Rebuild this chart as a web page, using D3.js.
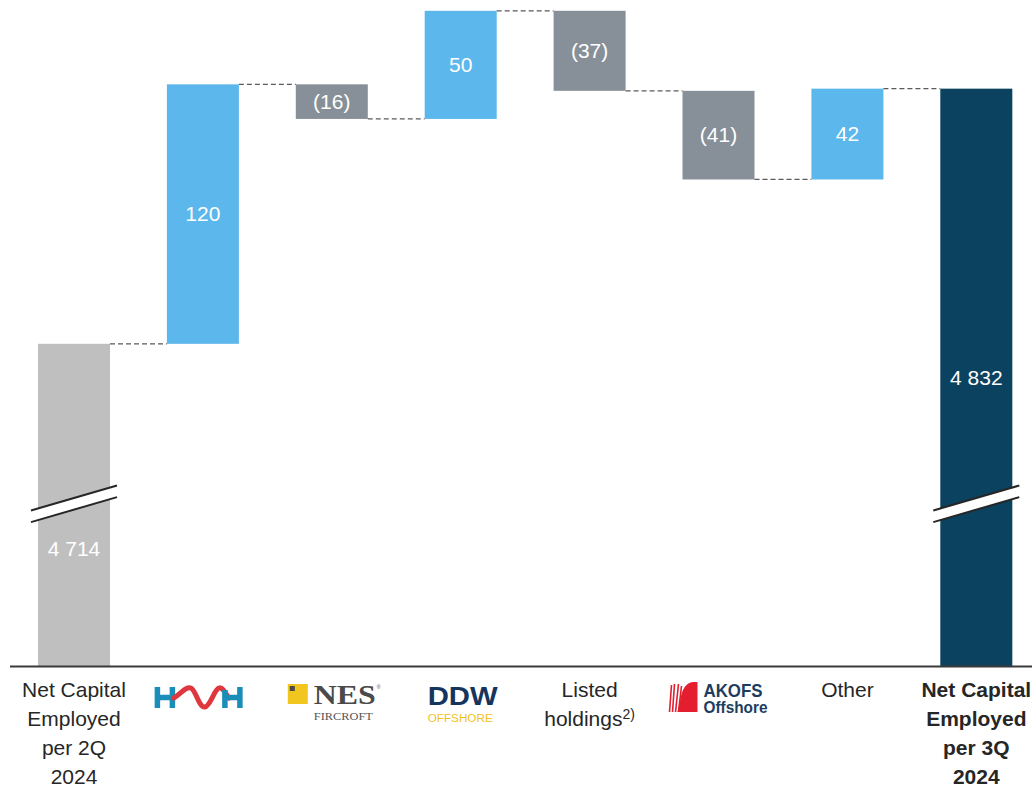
<!DOCTYPE html>
<html>
<head>
<meta charset="utf-8">
<script src="https://cdn.jsdelivr.net/npm/d3@7"></script>
<style>
    html, body { margin: 0; padding: 0; background: #ffffff; }
    svg { display: block; }
    text { font-family: "Liberation Sans", Arial, sans-serif; }
</style>
</head>
<body>
<svg id="chart" width="1032" height="788"></svg>
<script>
// Data
const categories = ['start', 'HMH', 'NES', 'DDW', 'Listed', 'AKOFS', 'Other', 'end'];
const startValue = 4714;
const deltas = [120, -16, 50, -37, -41, 42];
const endValue = 4832;
const valueLabels = ['4 714', '120', '(16)', '50', '(37)', '(41)', '42', '4 832'];
const categoryLines = [
    ['Net Capital', 'Employed', 'per 2Q', '2024'],
    null,
    null,
    null,
    ['Listed', 'holdings'],
    null,
    ['Other'],
    ['Net Capital', 'Employed', 'per 3Q', '2024']
];
const axisMin = 4565;
const axisMax = 4873;
const breakValue = 4640;

// Colours
const colors = {
    start: '#bfbfbf',
    up: '#5bb7ec',
    down: '#879098',
    end: '#0b4260',
    connector: '#5a5a5a',
    text: '#262626'
};

// Build waterfall rows
let running = startValue;
const rows = [{ key: categories[0], from: axisMin, to: startValue, type: 'start' }];
deltas.forEach((d, i) => {
    rows.push({ key: categories[i + 1], from: running, to: running + d, type: d >= 0 ? 'up' : 'down' });
    running += d;
});
rows.push({ key: categories[7], from: axisMin, to: endValue, type: 'end' });
rows.forEach((r, i) => { r.label = valueLabels[i]; });

const svg = d3.select('#chart');

const x = d3.scaleBand()
    .domain(categories)
    .range([9.5, 1040.8])
    .paddingInner(0.4414)
    .paddingOuter(0.221);

const y = d3.scaleLinear()
    .domain([axisMin, axisMax])
    .range([666, 0]);

// Bars
svg.append('g')
    .selectAll('rect')
    .data(rows)
    .enter()
    .append('rect')
    .attr('x', d => x(d.key))
    .attr('width', x.bandwidth())
    .attr('y', d => y(Math.max(d.from, d.to)))
    .attr('height', d => Math.abs(y(d.from) - y(d.to)))
    .attr('fill', d => colors[d.type]);

// Connectors
const links = rows.slice(0, -1).map((r, i) => ({ a: r.key, b: rows[i + 1].key, v: r.to }));
svg.append('g')
    .selectAll('line')
    .data(links)
    .enter()
    .append('line')
    .attr('x1', d => x(d.a) + x.bandwidth())
    .attr('x2', d => x(d.b))
    .attr('y1', d => y(d.v))
    .attr('y2', d => y(d.v))
    .attr('stroke', colors.connector)
    .attr('stroke-width', 1.3)
    .attr('stroke-dasharray', '5,3');

// Axis line
svg.append('g')
    .attr('transform', `translate(0,${y(axisMin)})`)
    .call(d3.axisBottom(x).tickSize(0).tickFormat(''))
    .call(g => g.select('.domain').attr('stroke', '#3a3a3a').attr('stroke-width', 2));

// Break marks on the two total bars
const breakG = svg.append('g');
[rows[0], rows[7]].forEach(r => {
    const cx = x(r.key) + x.bandwidth() / 2;
    const cy = y(breakValue);
    const half = 43, rise = 12.5, gap = 5.8;
    breakG.append('polygon')
        .attr('points', [
            [cx - half, cy + rise - gap], [cx + half, cy - rise - gap],
            [cx + half, cy - rise + gap], [cx - half, cy + rise + gap]
        ].map(p => p.join(',')).join(' '))
        .attr('fill', '#ffffff');
    [-gap, gap].forEach(o => {
        breakG.append('line')
            .attr('x1', cx - half).attr('y1', cy + rise + o)
            .attr('x2', cx + half).attr('y2', cy - rise + o)
            .attr('stroke', '#262626')
            .attr('stroke-width', 2);
    });
});

// Value labels
svg.append('g')
    .selectAll('text')
    .data(rows)
    .enter()
    .append('text')
    .attr('x', d => x(d.key) + x.bandwidth() / 2)
    .attr('y', d => {
        const mid = (y(d.from) + y(d.to)) / 2;
        return d.type === 'start' ? mid + 44 : mid;
    })
    .attr('dy', '0.35em')
    .attr('text-anchor', 'middle')
    .attr('fill', '#ffffff')
    .attr('font-size', '21px')
    .text(d => d.label);

// Category labels
const labelG = svg.append('g');
categoryLines.forEach((lines, i) => {
    if (!lines) return;
    const cx = x(categories[i]) + x.bandwidth() / 2;
    const t = labelG.append('text')
        .attr('x', cx)
        .attr('y', 697)
        .attr('text-anchor', 'middle')
        .attr('fill', colors.text)
        .attr('font-size', '21px')
        .attr('font-weight', i === 7 ? 'bold' : 'normal');
    lines.forEach((line, j) => {
        t.append('tspan')
            .attr('x', cx)
            .attr('dy', j === 0 ? 0 : 29)
            .text(line);
        if (categories[i] === 'Listed' && j === 1) {
            t.append('tspan')
                .attr('font-size', '14px')
                .attr('dy', -7)
                .text('2)');
        }
    });
});

// Logos
function center(key) { return x(key) + x.bandwidth() / 2; }
const serif = '"Liberation Serif", "DejaVu Serif", serif';

// HMH
const hmh = svg.append('g').attr('transform', `translate(${center('HMH')},0)`);
hmh.append('path')
    .attr('d', 'M-45.5,687 V708 M-30.5,687 V708 M-46,697.5 H-28')
    .attr('stroke', '#1a8db8').attr('stroke-width', 5.5).attr('fill', 'none');
hmh.append('path')
    .attr('d', 'M-29,698 C-22,694 -17,686 -12,688 C-7,690 -4,708 2,707 C8,706 12,686 18,688 C22,690 24,696 26,698')
    .attr('stroke', '#e0363d').attr('stroke-width', 5).attr('fill', 'none').attr('stroke-linecap', 'round');
hmh.append('path')
    .attr('d', 'M22,697.5 H37 M22,690 V708 M37,687 V708')
    .attr('stroke', '#1a8db8').attr('stroke-width', 5.5).attr('fill', 'none');

// NES Fircroft
const nes = svg.append('g').attr('transform', `translate(${center('NES')},0)`);
nes.append('rect').attr('x', -44).attr('y', 684).attr('width', 20).attr('height', 20).attr('fill', '#f1c61f');
nes.append('rect').attr('x', -42).attr('y', 686).attr('width', 5).attr('height', 5).attr('fill', '#4a4a4a');
nes.append('text')
    .attr('x', -18).attr('y', 704)
    .style('font-family', serif)
    .attr('font-weight', 'bold').attr('font-size', '27px')
    .attr('textLength', 62).attr('lengthAdjust', 'spacingAndGlyphs')
    .attr('fill', '#4a4a4a').text('NES');
nes.append('text')
    .attr('x', 45).attr('y', 689)
    .attr('font-size', '5px').attr('fill', '#4a4a4a').text('®');
nes.append('text')
    .attr('x', -18).attr('y', 719.5)
    .style('font-family', serif)
    .attr('font-size', '10px')
    .attr('textLength', 59).attr('lengthAdjust', 'spacingAndGlyphs')
    .attr('fill', '#555555').text('FIRCROFT');

// DDW Offshore
const ddw = svg.append('g').attr('transform', `translate(${center('DDW')},0)`);
ddw.append('text')
    .attr('x', -33).attr('y', 705)
    .attr('font-weight', 'bold').attr('font-size', '25px')
    .attr('textLength', 70).attr('lengthAdjust', 'spacingAndGlyphs')
    .attr('fill', '#15355f').text('DDW');
ddw.append('text')
    .attr('x', -33).attr('y', 722)
    .attr('font-size', '10px')
    .attr('textLength', 65).attr('lengthAdjust', 'spacingAndGlyphs')
    .attr('fill', '#f3c21a').text('OFFSHORE');

// AKOFS Offshore
const akofs = svg.append('g').attr('transform', `translate(${center('AKOFS')},0)`);
akofs.append('path')
    .attr('d', 'M-41,712 L-37,694 C-35,687 -31,682 -25,682 L-21,682 L-21,712 Z')
    .attr('fill', '#e41e2f');
akofs.append('path')
    .attr('d', 'M-49,712 L-47,685 M-46,712 L-44,684 M-43,712 L-40,684 M-40,712 L-37,686')
    .attr('stroke', '#e41e2f').attr('stroke-width', 1.6).attr('fill', 'none');
akofs.append('text')
    .attr('x', -15).attr('y', 697)
    .attr('font-weight', 'bold').attr('font-size', '19px')
    .attr('textLength', 59).attr('lengthAdjust', 'spacingAndGlyphs')
    .attr('fill', '#1d3d5e').text('AKOFS');
akofs.append('text')
    .attr('x', -15).attr('y', 713)
    .attr('font-weight', 'bold').attr('font-size', '16px')
    .attr('textLength', 64).attr('lengthAdjust', 'spacingAndGlyphs')
    .attr('fill', '#1d3d5e').text('Offshore');
</script>
</body>
</html>
